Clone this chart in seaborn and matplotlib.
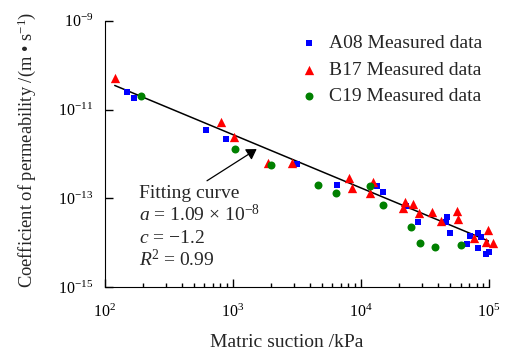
import numpy as np
import pandas as pd
import matplotlib
matplotlib.use("Agg")
import matplotlib.pyplot as plt
import seaborn as sns
from matplotlib.ticker import LogLocator, NullLocator, FixedLocator, NullFormatter

# ---------------- data ----------------
a08_x = [150, 170, 619, 887, 3180, 6520, 13380, 14900, 22500, 27970, 47100, 46240,
         49700, 67400, 71200, 82200, 82200, 86700, 94900, 100000]
a08_y = [2.48e-11, 1.82e-11, 3.47e-12, 2.17e-12, 5.95e-13, 2.0e-13, 1.9e-13, 1.39e-13,
         6.75e-14, 2.94e-14, 3.81e-14, 2.94e-14, 1.66e-14, 9.4e-15, 1.42e-14, 1.66e-14,
         7.6e-15, 1.35e-14, 5.6e-15, 6.2e-15]

b17_x = [120.6, 811, 1024, 1887, 2900, 8090, 8540, 12450, 11800, 22100, 21350, 25550,
         28440, 35950, 42300, 56400, 57400, 76600, 98600, 108000, 94900]
b17_y = [5.13e-11, 5.25e-12, 2.41e-12, 6.27e-13, 6.27e-13, 2.88e-13, 1.71e-13, 2.34e-13,
         1.32e-13, 8.3e-14, 6.1e-14, 7.5e-14, 4.7e-14, 4.9e-14, 3.1e-14, 5.2e-14, 3.4e-14,
         1.28e-14, 1.94e-14, 9.9e-15, 1.04e-14]

c19_x = [193, 1042, 1990, 4640, 6410, 11800, 14900, 24660, 28970, 37950, 60500]
c19_y = [2.02e-11, 1.29e-12, 5.65e-13, 2.0e-13, 1.32e-13, 1.9e-13, 7.1e-14, 2.27e-14,
         1.0e-14, 8.0e-15, 8.9e-15]

fit_x = [120, 100000]
fit_y = [3.49e-11, 1.09e-14]

series_names = ["A08 Measured data", "B17 Measured data", "C19 Measured data"]
x_ticks = [1e2, 1e3, 1e4, 1e5]
y_ticks = [1e-15, 1e-13, 1e-11, 1e-9]

# ---------------- style ----------------
sns.set_style("ticks")
plt.rcParams["font.family"] = ["Liberation Serif", "DejaVu Serif"]
plt.rcParams["mathtext.fontset"] = "custom"
plt.rcParams["mathtext.rm"] = "Liberation Serif"
plt.rcParams["mathtext.it"] = "Liberation Serif:italic"
plt.rcParams["mathtext.bf"] = "Liberation Serif:bold"
plt.rcParams["xtick.direction"] = "in"
plt.rcParams["ytick.direction"] = "in"

fig = plt.figure(figsize=(5.06, 3.54), dpi=100)
ax = fig.add_axes([0.2067, 0.1884, 0.7597, 0.7531])

df_a = pd.DataFrame({"x": a08_x, "y": a08_y})
df_b = pd.DataFrame({"x": b17_x, "y": b17_y})
df_c = pd.DataFrame({"x": c19_x, "y": c19_y})
df_fit = pd.DataFrame({"x": fit_x, "y": fit_y})

sns.lineplot(data=df_fit, x="x", y="y", ax=ax, color="black", lw=1.1, legend=False)
sns.scatterplot(data=df_a, x="x", y="y", ax=ax, marker="s", color="#0000FF", s=25,
                linewidth=0, label=series_names[0], clip_on=False, zorder=3)
sns.scatterplot(data=df_b, x="x", y="y", ax=ax, marker="^", color="#FF0000", s=45,
                linewidth=0, label=series_names[1], clip_on=False, zorder=3)
sns.scatterplot(data=df_c, x="x", y="y", ax=ax, marker="o", color="#008000", s=33,
                linewidth=0, label=series_names[2], clip_on=False, zorder=3)

ax.set_xscale("log")
ax.set_yscale("log")
ax.set_xlim(1e2, 1e5)
ax.set_ylim(1e-15, 1e-9)

ax.xaxis.set_major_locator(FixedLocator(x_ticks))
ax.xaxis.set_minor_locator(LogLocator(base=10, subs=np.arange(2, 10), numticks=20))
ax.xaxis.set_minor_formatter(NullFormatter())
ax.yaxis.set_major_locator(FixedLocator(y_ticks))
ax.yaxis.set_minor_locator(NullLocator())

ax.spines["top"].set_visible(False)
ax.spines["right"].set_visible(False)
ax.spines["left"].set_color("black")
ax.spines["bottom"].set_color("black")

ax.tick_params(axis="both", which="major", direction="in", length=5.5, width=1.0,
               labelsize=11.5, color="black", labelcolor="black")
ax.tick_params(axis="x", which="major", pad=12)
ax.tick_params(axis="y", which="major", pad=8)
ax.tick_params(axis="x", which="minor", direction="in", length=2.8, width=1.0, color="black")

ax.set_xlabel("Matric suction /kPa", fontsize=14)
ax.set_ylabel(r"Coefficient of permeability /(m • s$^{-1}$)", fontsize=13.3)
ax.xaxis.set_label_coords(0.475, -0.175)
ax.yaxis.set_label_coords(-0.173, 0.515)

leg = ax.legend(loc="upper left", bbox_to_anchor=(0.506, 0.947), frameon=False,
                fontsize=14, handlelength=1.0, handletextpad=0.55, borderpad=0,
                borderaxespad=0, labelspacing=0.45)

ax.annotate("", xy=(1538, 1.29e-12), xytext=(630, 2.5e-13),
            arrowprops=dict(arrowstyle="-|>,head_length=0.4,head_width=0.25",
                            color="black", lw=0.9, mutation_scale=15, shrinkA=0, shrinkB=0))

tx = 0.090
ax.text(tx, 0.335, "Fitting curve", transform=ax.transAxes, fontsize=14, va="baseline")
ax.text(tx, 0.250, r"$a$ = 1.09 × 10$^{−8}$", transform=ax.transAxes, fontsize=14, va="baseline")
ax.text(tx, 0.166, r"$c$ = −1.2", transform=ax.transAxes, fontsize=14, va="baseline")
ax.text(tx, 0.081, r"$R$$^{2}$ = 0.99", transform=ax.transAxes, fontsize=14, va="baseline")


# ---------------- make sure the inward tick marks actually render ----------------
def ticks_rendered():
    fig.canvas.draw()
    img = np.asarray(fig.canvas.buffer_rgba())[:, :, :3].astype(int)
    H = img.shape[0]
    px, py = ax.transData.transform((x_ticks[1], ax.get_ylim()[0]))
    c, r = int(round(px)), int(round(H - py))
    a = img[max(r - 6, 0):r - 2, c - 1:c + 2].min()
    px, py = ax.transData.transform((ax.get_xlim()[0], y_ticks[2]))
    c, r = int(round(px)), int(round(H - py))
    b = img[r - 1:r + 2, c + 3:c + 7].min()
    return a < 130 and b < 130


def force_tick_props():
    for axis, mk in ((ax.xaxis, 2), (ax.yaxis, 0)):
        for t in axis.get_major_ticks():
            t.tick1line.set_visible(True)
            t.tick1line.set_marker(mk)
            t.tick1line.set_markersize(5.5)
            t.tick1line.set_markeredgewidth(1.0)
            t.tick1line.set_color("black")
            t.tick1line.set_markeredgecolor("black")
            t.tick1line.set_alpha(1.0)
            t.tick1line.set_zorder(5)
    for t in ax.xaxis.get_minor_ticks():
        t.tick1line.set_visible(True)
        t.tick1line.set_marker(2)
        t.tick1line.set_markersize(2.8)
        t.tick1line.set_markeredgewidth(1.0)
        t.tick1line.set_color("black")
        t.tick1line.set_markeredgecolor("black")
        t.tick1line.set_alpha(1.0)
    ax.set_axisbelow(False)
    ax.xaxis.set_zorder(5)
    ax.yaxis.set_zorder(5)


if not ticks_rendered():
    force_tick_props()
    if not ticks_rendered():
        # fall back: draw the tick marks at the locator positions as axis-attached markers
        ylo = ax.get_ylim()[0]
        xlo = ax.get_xlim()[0]
        xmaj = [v for v in ax.xaxis.get_majorticklocs() if xlo <= v <= ax.get_xlim()[1]]
        xmin = [v for v in ax.xaxis.get_minorticklocs() if xlo <= v <= ax.get_xlim()[1]]
        ymaj = [v for v in ax.yaxis.get_majorticklocs() if ylo <= v <= ax.get_ylim()[1]]
        ax.plot(xmaj, [ylo] * len(xmaj), linestyle="none", marker=2, markersize=5.5,
                markeredgewidth=1.0, color="black", clip_on=False, zorder=6)
        ax.plot(xmin, [ylo] * len(xmin), linestyle="none", marker=2, markersize=2.8,
                markeredgewidth=1.0, color="black", clip_on=False, zorder=6)
        ax.plot([xlo] * len(ymaj), ymaj, linestyle="none", marker=0, markersize=5.5,
                markeredgewidth=1.0, color="black", clip_on=False, zorder=6)
        ax.set_xlim(1e2, 1e5)
        ax.set_ylim(1e-15, 1e-9)

fig.savefig("out.png", dpi=100)
